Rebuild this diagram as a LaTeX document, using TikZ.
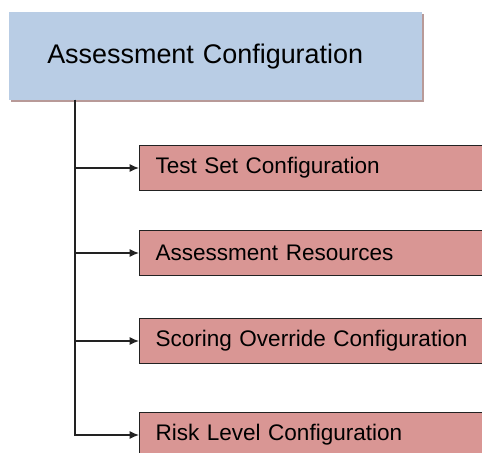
\documentclass[tikz,border=0pt]{standalone}
\usepackage{fontspec}
\setmainfont{Liberation Sans}
\usetikzlibrary{positioning,arrows.meta,shadows}
\definecolor{cTop}{HTML}{B9CDE5}
\definecolor{cSub}{HTML}{D99694}
\definecolor{cShadow}{HTML}{B89A98}
\definecolor{cLine}{HTML}{222222}
\tikzset{
  topbox/.style={rectangle,fill=cTop,anchor=north west,minimum width=413*0.75pt,minimum height=88*0.75pt,
    inner xsep=38*0.75pt,text width=337*0.75pt,align=left,font=\fontsize{20.2}{24}\selectfont,
    drop shadow={shadow xshift=1.5pt,shadow yshift=-1.5pt,fill=cShadow,opacity=1}},
  subbox/.style={rectangle,fill=cSub,draw=cLine,line width=0.8pt,anchor=west,minimum width=380*0.75pt,
    minimum height=45*0.75pt,inner xsep=16*0.75pt,text width=348*0.75pt,align=left,
    font=\fontsize{16.9}{20}\selectfont},
  arr/.style={-{Latex[length=7pt,width=6pt]},draw=cLine,line width=0.9pt}}
\begin{document}
\begin{tikzpicture}[x=0.75pt,y=-0.75pt]
\clip (0,0) rectangle (482,453);
\fill[white] (0,0) rectangle (482,453);
\node[topbox] (assess) at (9,12) {Assessment Configuration};
\node[subbox] (testset) at (139,168) {Test Set Configuration};
\node[subbox] (resources) at (139,253) {Assessment Resources};
\node[subbox] (scoring) at (139,341) {Scoring Override Configuration};
\node[subbox] (risk) at (139,435) {Risk Level Configuration};
\coordinate (trunk) at (75,100);
\draw[arr] (trunk) |- (testset.west);
\draw[arr] (trunk) |- (resources.west);
\draw[arr] (trunk) |- (scoring.west);
\draw[arr] (trunk) |- (risk.west);
\end{tikzpicture}
\end{document}
